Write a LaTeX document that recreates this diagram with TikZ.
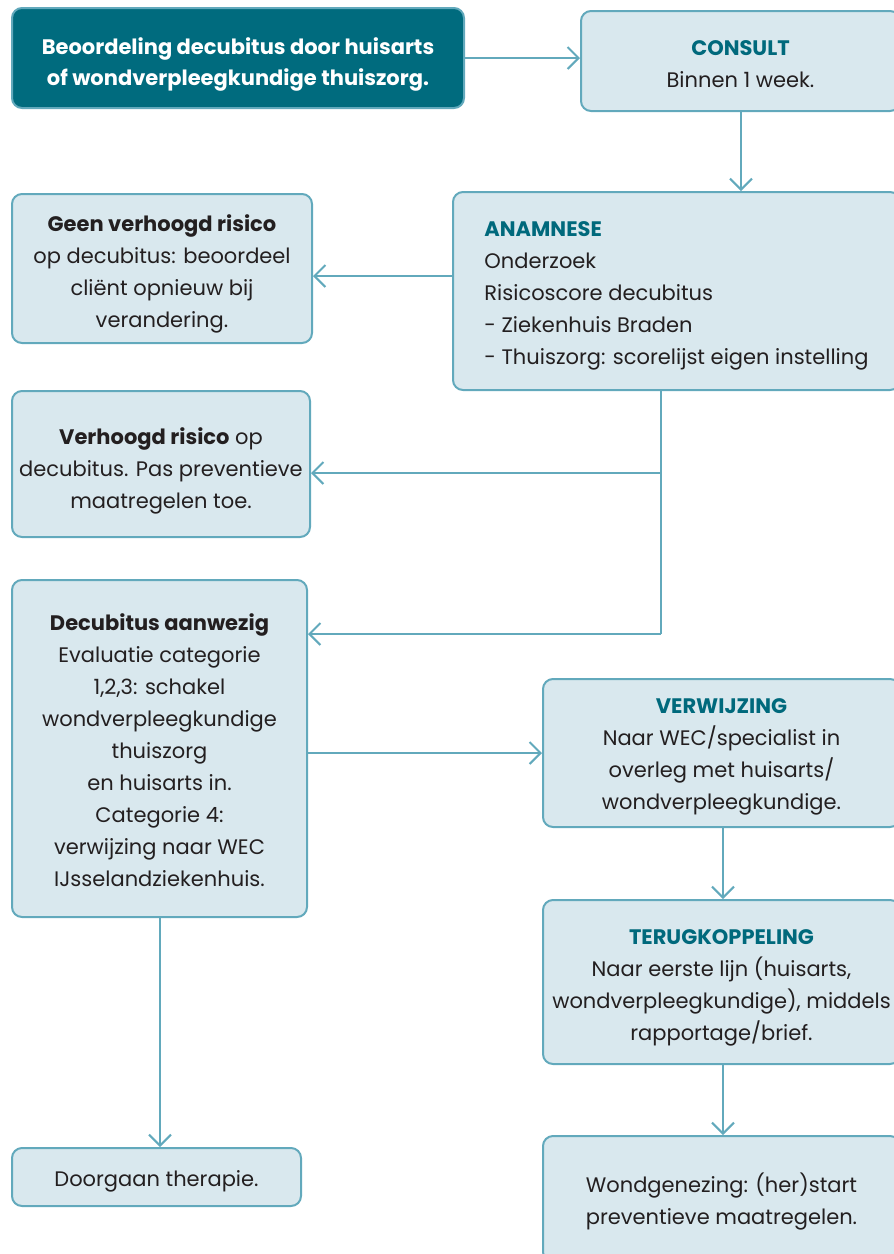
\documentclass[tikz,border=0pt]{standalone}
\usepackage{fontspec}
\setmainfont{Poppins}
\usetikzlibrary{arrows.meta}
\definecolor{darkteal}{HTML}{006B7E}
\definecolor{headteal}{HTML}{00697C}
\definecolor{boxfill}{HTML}{D9E8EE}
\definecolor{boxline}{HTML}{62A9BC}
\definecolor{txt}{HTML}{231F20}
\newcommand{\tp}[1][31pt]{\rule{0pt}{#1}}
\tikzset{
  flowbox/.style={draw=boxline, fill=boxfill, line width=2pt, rounded corners=10pt,
    align=center, inner sep=0pt, text=txt, font=\fontsize{21}{32}\selectfont},
  darkbox/.style={flowbox, fill=darkteal, text=white, font=\fontsize{21}{31}\selectfont\bfseries},
  conn/.style={draw=boxline, line width=2pt, -{Straight Barb[length=11pt,width=22pt,line width=2pt]}},
  plain/.style={draw=boxline, line width=2pt},
}
\newcommand{\hd}[1]{\textcolor{headteal}{\textbf{#1}}}
\begin{document}
\begin{tikzpicture}[x=1pt,y=-1pt]
\useasboundingbox (0,0) rectangle (894,1254);
\clip (0,0) rectangle (894,1254);
\node[darkbox, minimum width=452pt, minimum height=100pt] (start) at (238,58)
  {\tp[29pt]Beoordeling decubitus door huisarts\\of wondverpleegkundige thuiszorg.};
\node[flowbox, minimum width=319pt, minimum height=100pt] (consult) at (740.5,61)
  {\tp[22pt]\hd{CONSULT}\\Binnen 1 week.};
\node[flowbox, minimum width=300pt, minimum height=149pt] (geen) at (162,268.5)
  {\tp[27pt]\textbf{Geen verhoogd risico}\\op decubitus: beoordeel\\cliënt opnieuw bij\\verandering.};
\node[flowbox, minimum width=447pt, minimum height=198pt, align=left] (anam) at (676.5,291)
  {\tp[25pt]\hd{ANAMNESE}\\Onderzoek\\Risicoscore decubitus\\- Ziekenhuis Braden\\- Thuiszorg: scorelijst eigen instelling};
\node[flowbox, minimum width=298pt, minimum height=146pt] (verh) at (161,464)
  {\tp\textbf{Verhoogd risico} op\\decubitus. Pas preventieve\\maatregelen toe.};
\node[flowbox, minimum width=295pt, minimum height=337pt] (decub) at (159.5,748.5)
  {\tp[21pt]\textbf{Decubitus aanwezig}\\Evaluatie categorie\\1,2,3: schakel\\wondverpleegkundige\\thuiszorg\\en huisarts in.\\Categorie 4:\\verwijzing naar WEC\\IJsselandziekenhuis.};
\node[flowbox, minimum width=357pt, minimum height=148pt] (verw) at (721.5,753)
  {\tp[23pt]\hd{VERWIJZING}\\Naar WEC/specialist in\\overleg met huisarts/\\wondverpleegkundige.};
\node[flowbox, minimum width=357pt, minimum height=164pt] (terug) at (721.5,982)
  {\tp[27pt]\hd{TERUGKOPPELING}\\Naar eerste lijn (huisarts,\\wondverpleegkundige), middels\\rapportage/brief.};
\node[flowbox, minimum width=289pt, minimum height=58pt] (door) at (156.5,1177)
  {\tp[24pt]Doorgaan therapie.};
\node[flowbox, minimum width=357pt, minimum height=126pt] (wond) at (721.5,1199)
  {\tp[24pt]Wondgenezing: (her)start\\preventieve maatregelen.};
% connectors
\draw[conn] (start.east) -- (start.east -| consult.west);
\coordinate (ca) at (741,111);
\draw[conn] (ca) -- (ca |- anam.north);
\coordinate (ga) at (453,276);
\draw[conn] (ga) -- (ga -| geen.east);
\coordinate (j0) at (661,390);
\coordinate (j1) at (661,473);
\coordinate (j2) at (661,634);
\draw[plain] (j0) -- (j2);
\draw[conn] (j1) -- (j1 -| verh.east);
\draw[conn] (j2) -- (j2 -| decub.east);
\draw[conn] (decub.east |- verw.west) -- (verw.west);
\coordinate (vt) at (723,827);
\draw[conn] (vt) -- (vt |- terug.north);
\coordinate (tw) at (723,1064);
\draw[conn] (tw) -- (tw |- wond.north);
\coordinate (dd) at (160,917);
\draw[conn] (dd) -- (dd |- door.north);
\end{tikzpicture}
\end{document}
